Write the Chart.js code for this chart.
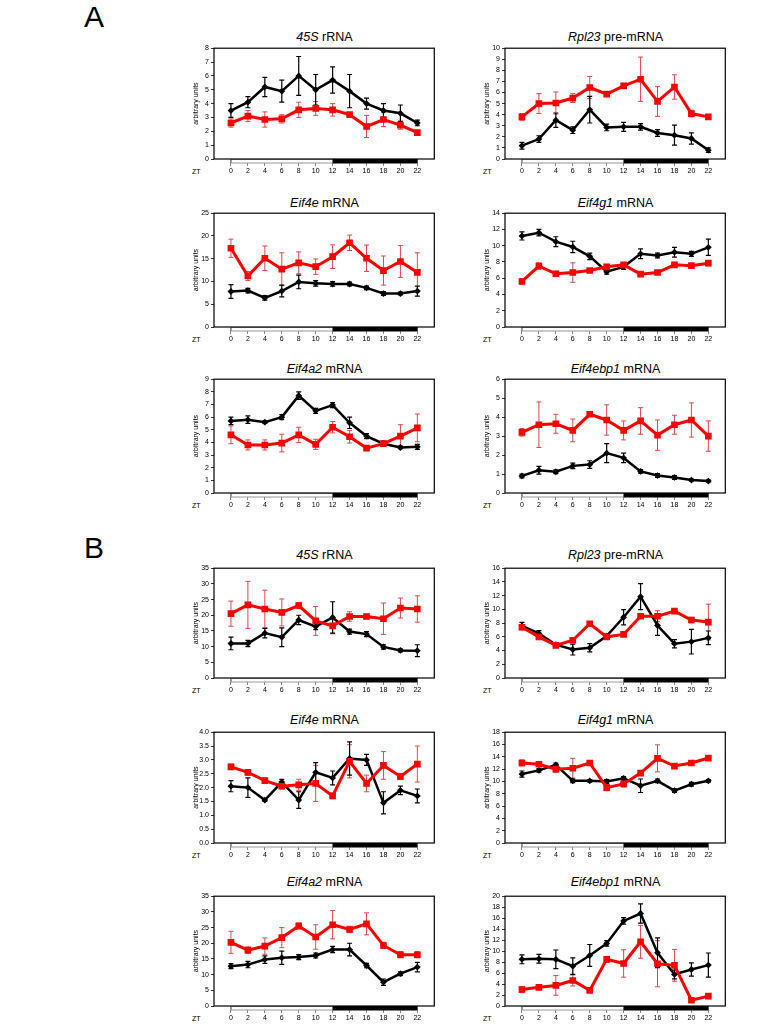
<!DOCTYPE html>
<html><head><meta charset="utf-8">
<script src="https://cdn.jsdelivr.net/npm/chart.js@4.4.1/dist/chart.umd.min.js"></script>
<style>
body{margin:0;background:#fff;}
#page{position:relative;width:778px;height:1031px;overflow:hidden;background:#fff;font-family:"Liberation Sans",Arial,sans-serif;}
.ttl{position:absolute;font-size:12.5px;white-space:nowrap;transform:translate(-50%,-50%);color:#000;}
.zt{position:absolute;font-size:7px;color:#000;}
.big{position:absolute;font-size:30px;color:#000;line-height:1;}
canvas{position:absolute;}
</style></head>
<body><div id="page">
<div class="big" style="left:84px;top:2px;">A</div>
<div class="big" style="left:84px;top:533px;">B</div>
</div>
<script>
const ztHours = [0,2,4,6,8,10,12,14,16,18,20,22];

// ---- Panel A ----
const a45sBlack    = [3.5,4.1,5.2,4.9,6.0,5.0,5.7,4.9,4.0,3.5,3.3,2.6];
const a45sBlackErr = [0.5,0.4,0.7,0.8,1.4,1.1,0.95,1.2,0.4,0.5,0.6,0.2];
const a45sRed      = [2.6,3.1,2.85,2.9,3.55,3.65,3.55,3.2,2.35,2.85,2.45,1.9];
const a45sRedErr   = [0.3,0.4,0.55,0.3,0.55,0.5,0.45,0.15,0.8,0.5,0.3,0.1];

const aRpl23Black    = [1.2,1.8,3.5,2.6,4.45,2.85,2.9,2.9,2.35,2.15,1.85,0.8];
const aRpl23BlackErr = [0.3,0.3,0.65,0.3,1.2,0.3,0.4,0.3,0.3,0.9,0.5,0.2];
const aRpl23Red      = [3.8,5.0,5.05,5.5,6.45,5.85,6.6,7.2,5.2,6.5,4.1,3.8];
const aRpl23RedErr   = [0.3,0.9,1.0,0.4,1.0,0.2,0.2,2.0,1.35,1.1,0.3,0.2];

const aEif4eBlack    = [7.8,8.0,6.4,7.9,9.9,9.6,9.45,9.45,8.6,7.35,7.35,7.9];
const aEif4eBlackErr = [1.5,0.5,0.5,1.3,1.5,0.6,0.5,0.4,0.4,0.4,0.3,1.1];
const aEif4eRed      = [17.3,11.2,15.1,12.7,14.1,13.25,15.45,18.5,15.1,12.4,14.4,12.0];
const aEif4eRedErr   = [2.0,1.0,2.7,3.6,2.4,1.7,2.6,1.7,2.9,3.2,3.5,4.3];

const aEif4g1Black    = [11.2,11.6,10.5,9.85,8.7,6.8,7.4,9.0,8.8,9.2,9.0,9.8];
const aEif4g1BlackErr = [0.5,0.4,0.6,0.7,0.4,0.3,0.3,0.6,0.3,0.6,0.3,1.0];
const aEif4g1Red      = [5.6,7.5,6.55,6.7,6.95,7.4,7.65,6.5,6.7,7.65,7.55,7.85];
const aEif4g1RedErr   = [0.3,0.4,0.3,1.2,0.2,0.3,0.2,0.2,0.2,0.3,0.2,0.3];

const aEif4a2Black    = [5.7,5.8,5.6,6.0,7.7,6.5,6.95,5.55,4.5,3.9,3.6,3.65];
const aEif4a2BlackErr = [0.3,0.3,0.1,0.2,0.3,0.2,0.2,0.45,0.2,0.2,0.1,0.2];
const aEif4a2Red      = [4.6,3.8,3.8,3.95,4.6,3.85,5.2,4.45,3.55,3.9,4.5,5.15];
const aEif4a2RedErr   = [0.7,0.4,0.4,0.7,0.6,0.4,0.45,0.5,0.2,0.2,0.9,1.1];

const aEif4ebp1Black    = [0.9,1.2,1.12,1.43,1.5,2.1,1.85,1.14,0.92,0.82,0.68,0.63];
const aEif4ebp1BlackErr = [0.1,0.2,0.1,0.15,0.2,0.5,0.25,0.1,0.1,0.1,0.05,0.05];
const aEif4ebp1Red      = [3.2,3.6,3.65,3.3,4.15,3.85,3.3,3.8,3.05,3.6,3.85,3.0];
const aEif4ebp1RedErr   = [0.2,1.2,0.5,0.6,0.1,0.8,0.5,0.7,0.8,0.5,0.9,0.8];

// ---- Panel B ----
const b45sBlack    = [11.0,11.0,14.3,13.0,18.5,16.4,19.3,14.8,14.0,9.9,8.8,8.7];
const b45sBlackErr = [2.0,1.0,1.5,3.0,1.5,1.0,5.0,0.8,0.8,0.7,0.5,1.9];
const b45sRed      = [20.5,23.3,22.0,20.9,23.1,18.2,16.6,19.6,19.6,18.9,22.3,22.0];
const b45sRedErr   = [4.0,7.5,6.0,4.3,1.0,4.6,2.5,1.5,0.7,5.0,3.2,4.2];

const bRpl23Black    = [7.6,6.5,4.85,4.15,4.4,6.1,8.85,11.85,7.65,5.0,5.3,5.85];
const bRpl23BlackErr = [0.5,0.4,0.3,0.8,0.6,0.3,1.1,1.9,1.45,0.6,1.8,1.0];
const bRpl23Red      = [7.4,6.0,4.75,5.5,7.9,6.0,6.35,9.0,9.0,9.75,8.45,8.15];
const bRpl23RedErr   = [0.4,0.4,0.3,0.3,0.3,0.3,0.3,0.3,0.8,0.3,0.4,2.6];

const bEif4eBlack    = [2.05,2.0,1.55,2.2,1.55,2.55,2.35,3.05,3.0,1.45,1.9,1.7];
const bEif4eBlackErr = [0.2,0.35,0.05,0.1,0.3,0.35,0.25,0.6,0.2,0.4,0.15,0.25];
const bEif4eRed      = [2.75,2.55,2.25,2.05,2.1,2.15,1.7,2.95,2.15,2.8,2.4,2.85];
const bEif4eRedErr   = [0.1,0.1,0.1,0.1,0.2,0.65,0.1,0.6,0.3,0.5,0.1,0.65];

const bEif4g1Black    = [11.2,11.8,12.7,10.1,10.1,10.0,10.5,9.3,10.1,8.5,9.55,10.1];
const bEif4g1BlackErr = [0.5,0.3,0.3,0.3,0.2,0.3,0.3,1.1,0.3,0.3,0.3,0.2];
const bEif4g1Red      = [13.0,12.8,12.0,12.15,13.0,9.0,9.6,11.35,13.75,12.5,13.0,13.8];
const bEif4g1RedErr   = [0.5,0.3,0.5,1.6,0.4,0.5,0.5,0.4,2.2,0.4,0.3,0.3];

const bEif4a2Black    = [12.7,13.2,14.8,15.4,15.6,16.1,18.0,18.0,12.9,7.6,10.3,12.4];
const bEif4a2BlackErr = [0.8,1.0,1.2,2.1,0.8,0.8,1.0,2.0,0.7,1.0,0.6,1.5];
const bEif4a2Red      = [20.3,17.8,19.1,21.8,25.5,22.0,25.9,24.4,26.2,19.3,16.35,16.35];
const bEif4a2RedErr   = [3.5,1.0,2.6,3.2,1.0,3.9,4.5,1.0,3.5,1.0,1.0,1.0];

const bEif4ebp1Black    = [8.5,8.6,8.5,7.25,9.2,11.4,15.5,16.85,9.7,5.75,6.65,7.45];
const bEif4ebp1BlackErr = [0.8,0.8,1.7,1.5,2.0,0.5,0.6,1.75,2.7,0.8,1.2,2.2];
const bEif4ebp1Red      = [3.0,3.4,3.75,4.65,2.85,8.5,7.75,11.7,7.7,7.4,1.05,1.8];
const bEif4ebp1RedErr   = [0.5,0.3,1.8,1.0,0.3,0.5,2.5,3.0,4.2,2.9,0.2,0.3];

const panelTitles = [
  ['<i>45S</i> rRNA','<i>Rpl23</i> pre-mRNA'],
  ['<i>Eif4e</i> mRNA','<i>Eif4g1</i> mRNA'],
  ['<i>Eif4a2</i> mRNA','<i>Eif4ebp1</i> mRNA'],
  ['<i>45S</i> rRNA','<i>Rpl23</i> pre-mRNA'],
  ['<i>Eif4e</i> mRNA','<i>Eif4g1</i> mRNA'],
  ['<i>Eif4a2</i> mRNA','<i>Eif4ebp1</i> mRNA']
];
const yMaxes = [[8,10],[25,14],[9,6],[35,16],[4,18],[35,20]];
const ySteps = [[1,1],[5,2],[1,1],[5,2],[0.5,2],[5,2]];
const yDecimals = [[0,0],[0,0],[0,0],[0,0],[1,0],[0,0]];
const yTitle = 'arbitrary units';
const ztLabel = 'ZT';

const seriesGrid = [
  [[a45sBlack,a45sBlackErr,a45sRed,a45sRedErr],[aRpl23Black,aRpl23BlackErr,aRpl23Red,aRpl23RedErr]],
  [[aEif4eBlack,aEif4eBlackErr,aEif4eRed,aEif4eRedErr],[aEif4g1Black,aEif4g1BlackErr,aEif4g1Red,aEif4g1RedErr]],
  [[aEif4a2Black,aEif4a2BlackErr,aEif4a2Red,aEif4a2RedErr],[aEif4ebp1Black,aEif4ebp1BlackErr,aEif4ebp1Red,aEif4ebp1RedErr]],
  [[b45sBlack,b45sBlackErr,b45sRed,b45sRedErr],[bRpl23Black,bRpl23BlackErr,bRpl23Red,bRpl23RedErr]],
  [[bEif4eBlack,bEif4eBlackErr,bEif4eRed,bEif4eRedErr],[bEif4g1Black,bEif4g1BlackErr,bEif4g1Red,bEif4g1RedErr]],
  [[bEif4a2Black,bEif4a2BlackErr,bEif4a2Red,bEif4a2RedErr],[bEif4ebp1Black,bEif4ebp1BlackErr,bEif4ebp1Red,bEif4ebp1RedErr]]
];

// layout
const colLeft = [214, 505];
const boxW = 221;
const rowTop = [48, 213, 379, 568, 732, 896];
const rowBottom = [159, 327, 493, 678, 843, 1006];
const titleY = [36.5, 203, 369, 555, 720, 882];
const YW = 22, PT = 6, PR = 4, XH = 20;
const FONT = "'Liberation Sans', Arial, sans-serif";

const framePlugin = {
  id:'frame',
  beforeDatasetsDraw(chart){
    const ctx = chart.ctx, xs = chart.scales.x, ys = chart.scales.y;
    chart.data.datasets.forEach(ds=>{
      ctx.save();
      ctx.strokeStyle = ds.errColor; ctx.lineWidth = ds.errWidth;
      ds.data.forEach((p,j)=>{
        const e = ds.errs[j];
        const x = xs.getPixelForValue(p.x);
        const y1 = ys.getPixelForValue(p.y + e), y2 = ys.getPixelForValue(p.y - e);
        ctx.beginPath();
        ctx.moveTo(x,y1); ctx.lineTo(x,y2);
        ctx.moveTo(x-2.5,y1); ctx.lineTo(x+2.5,y1);
        ctx.moveTo(x-2.5,y2); ctx.lineTo(x+2.5,y2);
        ctx.stroke();
      });
      ctx.restore();
    });
  },
  afterDraw(chart){
    const ctx = chart.ctx, a = chart.chartArea, xs = chart.scales.x;
    ctx.save();
    const x0 = xs.getPixelForValue(0), x12 = xs.getPixelForValue(12), x22 = xs.getPixelForValue(22);
    ctx.fillStyle = '#fff'; ctx.fillRect(x0, a.bottom, x12-x0, 4);
    ctx.strokeStyle = '#9a9a9a'; ctx.lineWidth = 1;
    ctx.strokeRect(x0+0.5, a.bottom+0.5, x12-x0, 3.5);
    ctx.fillStyle = '#000'; ctx.fillRect(x12, a.bottom, x22-x12, 4.5);
    ctx.strokeStyle = '#000'; ctx.lineWidth = 1.2;
    ctx.strokeRect(a.left, a.top, a.right-a.left, a.bottom-a.top);
    ctx.restore();
  }
};

const page = document.getElementById('page');
for (let r=0;r<6;r++){
  for (let c=0;c<2;c++){
    const [bk, bkErr, rd, rdErr] = seriesGrid[r][c];
    const boxL = colLeft[c], boxT = rowTop[r], boxH = rowBottom[r]-rowTop[r];
    const t = document.createElement('div');
    t.className='ttl'; t.innerHTML = panelTitles[r][c];
    t.style.left = (boxL + boxW/2)+'px'; t.style.top = titleY[r]+'px';
    page.appendChild(t);
    const z = document.createElement('div');
    z.className='zt'; z.textContent = ztLabel;
    z.style.left = (boxL-22)+'px'; z.style.top = (rowBottom[r]+9)+'px';
    page.appendChild(z);
    const cv = document.createElement('canvas');
    const W = YW + boxW + PR, H = PT + boxH + XH;
    cv.width = W; cv.height = H;
    cv.style.width = W+'px'; cv.style.height = H+'px';
    cv.style.left = (boxL - YW)+'px'; cv.style.top = (boxT - PT)+'px';
    page.appendChild(cv);
    const dec = yDecimals[r][c], ymax = yMaxes[r][c], ystep = ySteps[r][c];
    new Chart(cv, {
      type:'line',
      data:{datasets:[
        {data: ztHours.map((x,i)=>({x, y: rd[i]})), errs: rdErr, errColor:'#e2474a', errWidth:1,
         borderColor:'#ff0000', backgroundColor:'#ff0000', borderWidth:3, tension:0,
         pointStyle:'rect', pointRadius:4.7, pointBorderWidth:0, pointBackgroundColor:'#ff0000', order:0},
        {data: ztHours.map((x,i)=>({x, y: bk[i]})), errs: bkErr, errColor:'#000', errWidth:1.2,
         borderColor:'#000', backgroundColor:'#000', borderWidth:2.5, tension:0,
         pointStyle:'rectRot', pointRadius:3.4, pointBorderWidth:0, pointBackgroundColor:'#000', order:1}
      ]},
      options:{
        responsive:false, animation:false, events:[],
        layout:{padding:{top:PT,right:PR,left:0,bottom:0}},
        plugins:{legend:{display:false}, tooltip:{enabled:false}},
        scales:{
          x:{type:'linear', min:-2, max:24,
             afterBuildTicks:s=>{ s.ticks = ztHours.map(v=>({value:v})); },
             afterFit:s=>{ s.height = XH; },
             border:{display:false},
             grid:{display:true, drawOnChartArea:false, drawTicks:true, tickLength:7, color:'#666', lineWidth:0.8},
             ticks:{autoSkip:false, maxRotation:0, padding:1, color:'#000', font:{family:FONT, size:7}}},
          y:{min:0, max:ymax,
             afterBuildTicks:s=>{ const arr=[]; for(let v=0; v<=ymax+1e-9; v+=ystep) arr.push({value:+v.toFixed(3)}); s.ticks=arr; },
             afterFit:s=>{ s.width = YW; },
             border:{display:false},
             grid:{display:true, drawOnChartArea:false, drawTicks:true, tickLength:3, color:'#000', lineWidth:0.8},
             ticks:{autoSkip:false, padding:2, color:'#000', font:{family:FONT, size:7}, callback:v=>Number(v).toFixed(dec)},
             title:{display:true, text:yTitle, color:'#000', font:{family:FONT, size:7}, padding:{top:0,bottom:0}}}
        }
      },
      plugins:[framePlugin]
    });
  }
}
</script>
</body></html>
